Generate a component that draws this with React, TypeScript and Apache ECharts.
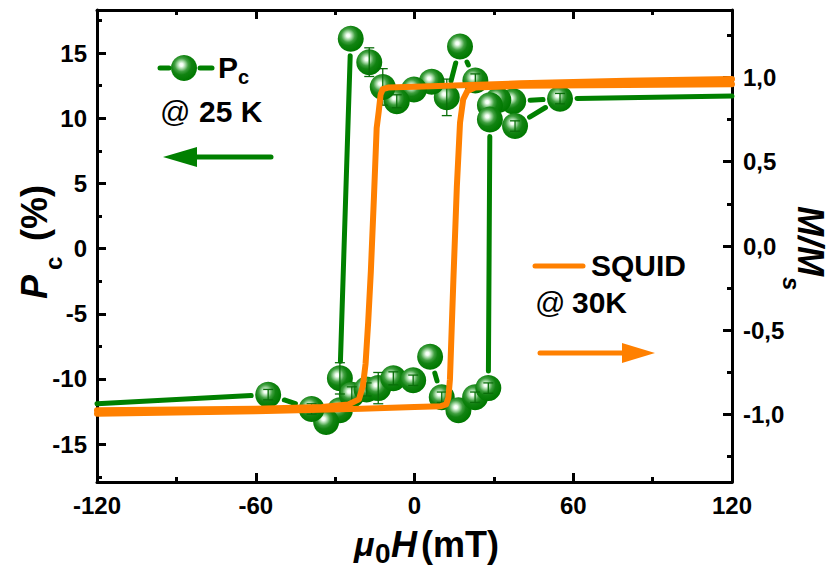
import React, { useEffect, useRef } from 'react';
import * as echarts from 'echarts';

// ---- axes ----
const xRange = [-120, 120];
const xInterval = 60;
const pcRange = [-17.9, 18.3];
const pcTicks = [-15, -10, -5, 0, 5, 10, 15];
const pcMinorTicks = [-17.5, -12.5, -7.5, -2.5, 2.5, 7.5, 12.5, 17.5];
const mRange = [-1.4, 1.4];
const mTicks = [-1, -0.5, 0, 0.5, 1];
const mMinorTicks = [-1.25, -0.75, -0.25, 0.25, 0.75, 1.25];

// ---- Pc (%) at 25 K, field sweeping down ----
const pcDownH = [55, 37.3, 31.7, 28.5, 23.0, 17.2, 12.2, 6.5, -0.2, -6.7, -12.0, -17.1, -24.1, -28.2, -28.2, -33.4, -38.9, -55.3];
const pcDownP = [11.5, 11.3, 11.4, 11.0, 12.9, 15.5, 11.6, 12.8, 12.2, 11.3, 12.4, 14.3, 16.1, -9.95, -12.4, -13.3, -12.3, -11.2];
const pcDownErr = [0.4, 0, 0, 0, 0.5, 0, 1.4, 0, 0, 0.5, 1.4, 1.1, 0, 1.2, 0, 0, 0.4, 0.4];
// ---- Pc (%) at 25 K, field sweeping up ----
const pcUpH = [-23.7, -18.1, -13.7, -8.0, -0.5, 5.9, 10.3, 16.6, 22.9, 27.9, 28.5, 38.0];
const pcUpP = [-11.2, -10.8, -10.7, -9.95, -10.1, -8.3, -11.4, -12.4, -11.4, -10.7, 9.9, 9.4];
const pcUpErr = [0.6, 0.5, 1.2, 0.5, 0.4, 0, 0.4, 0, 0.4, 0.4, 0, 0.4];
// high-field ends of the Pc curve (line only)
const pcLowEnd = [-120, -11.9];
const pcHighEnd = [120, 11.7];

// ---- SQUID M/Ms at 30 K ----
const sqDownH = [120, 80, 40, 0, -10, -12, -12.8, -13.5, -14.3, -15.3, -16.5, -17.5, -18.5, -19.5, -21, -25, -35, -60, -120];
const sqDownM = [0.99, 0.98, 0.965, 0.945, 0.94, 0.93, 0.9, 0.8, 0.7, 0.3, -0.15, -0.45, -0.7, -0.83, -0.91, -0.94, -0.955, -0.965, -0.975];
const sqUpH = [-120, -60, -20, 0, 10, 12, 12.8, 13.4, 14.7, 16, 17.2, 18.4, 20, 23, 40, 80, 120];
const sqUpM = [-0.995, -0.98, -0.965, -0.955, -0.95, -0.94, -0.9, -0.79, -0.2, 0.35, 0.73, 0.87, 0.92, 0.94, 0.95, 0.955, 0.96];

const GREEN = '#008000';
const ORANGE = '#ff8000';
const FONT = '"Liberation Sans", Arial, Helvetica, sans-serif';

function sphere() {
  return new echarts.graphic.RadialGradient(0.4, 0.38, 0.62, [
    { offset: 0, color: '#ffffff' },
    { offset: 0.1, color: '#f4fff4' },
    { offset: 0.24, color: '#a6d8a6' },
    { offset: 0.42, color: '#3f9f3f' },
    { offset: 0.62, color: '#118311' },
    { offset: 1, color: '#007800' },
  ]);
}

export default function App() {
  const ref = useRef<HTMLDivElement>(null);

  useEffect(() => {
    if (!ref.current) return;
    const chart = echarts.init(ref.current, null, { renderer: 'svg' });

    type P = { x: number; y: number; m: number };
    const chainDown: P[] = pcDownH.map((h, i) => ({ x: h, y: pcDownP[i], m: 1 }));
    chainDown.push({ x: pcLowEnd[0], y: pcLowEnd[1], m: 0 });
    const chainUp: P[] = pcUpH.map((h, i) => ({ x: h, y: pcUpP[i], m: 1 }));
    chainUp.push({ x: pcDownH[0], y: pcDownP[0], m: 1 });
    chainUp.push({ x: pcHighEnd[0], y: pcHighEnd[1], m: 0 });
    const segs: number[][] = [];
    [chainDown, chainUp].forEach((c) => {
      for (let i = 0; i < c.length - 1; i++) {
        segs.push([c[i].x, c[i].y, c[i + 1].x, c[i + 1].y, c[i].m, c[i + 1].m]);
      }
    });

    const markers = [
      ...pcDownH.map((h, i) => [h, pcDownP[i]]),
      ...pcUpH.map((h, i) => [h, pcUpP[i]]),
    ];
    const errs = [
      ...pcDownH.map((h, i) => [h, pcDownP[i], pcDownErr[i]]),
      ...pcUpH.map((h, i) => [h, pcUpP[i], pcUpErr[i]]),
    ].filter((e) => e[2] > 0);

    const GAP = 17;

    const tickLabel = { color: '#000', fontSize: 24, fontWeight: 'bold' as const, fontFamily: FONT };
    const lineSt = { color: '#000', width: 3 };

    const option: any = {
      animation: false,
      backgroundColor: '#ffffff',
      grid: { left: 97, right: 97, top: 10, bottom: 87 },
      xAxis: [
        {
          type: 'value', min: xRange[0], max: xRange[1], interval: xInterval, position: 'bottom',
          axisLine: { onZero: false, lineStyle: lineSt },
          axisTick: { inside: true, length: 9, lineStyle: lineSt },
          minorTick: { show: true, splitNumber: 2, length: 5, lineStyle: lineSt },
          axisLabel: { ...tickLabel, margin: 11 },
          splitLine: { show: false },
        },
        {
          type: 'value', min: xRange[0], max: xRange[1], interval: xInterval, position: 'top',
          axisLine: { onZero: false, lineStyle: lineSt },
          axisTick: { inside: true, length: 9, lineStyle: lineSt },
          minorTick: { show: true, splitNumber: 2, length: 5, lineStyle: lineSt },
          axisLabel: { show: false },
          splitLine: { show: false },
        },
      ],
      yAxis: [
        {
          type: 'value', min: pcRange[0], max: pcRange[1], position: 'left',
          axisLine: { onZero: false, lineStyle: lineSt },
          axisTick: { inside: true, length: 9, lineStyle: lineSt, customValues: pcTicks },
          axisLabel: { ...tickLabel, margin: 10, customValues: pcTicks },
          splitLine: { show: false },
        },
        {
          type: 'value', min: mRange[0], max: mRange[1], position: 'right',
          axisLine: { onZero: false, lineStyle: lineSt },
          axisTick: { inside: true, length: 9, lineStyle: lineSt, customValues: mTicks },
          axisLabel: {
            ...tickLabel, margin: 11, customValues: mTicks,
            formatter: (v: number) => (Math.abs(v) < 1e-9 ? 0 : v).toFixed(1).replace('.', ','),
          },
          splitLine: { show: false },
        },
        {
          type: 'value', min: pcRange[0], max: pcRange[1], position: 'left',
          axisLine: { show: false, onZero: false },
          axisTick: { inside: true, length: 5, lineStyle: lineSt, customValues: pcMinorTicks },
          axisLabel: { show: false },
          splitLine: { show: false },
        },
        {
          type: 'value', min: mRange[0], max: mRange[1], position: 'right',
          axisLine: { show: false, onZero: false },
          axisTick: { inside: true, length: 5, lineStyle: lineSt, customValues: mMinorTicks },
          axisLabel: { show: false },
          splitLine: { show: false },
        },
      ],
      series: [
        {
          type: 'custom', name: 'Pc line', xAxisIndex: 0, yAxisIndex: 0, z: 3,
          encode: { x: [0, 2], y: [1, 3] },
          data: segs,
          renderItem: (params: any, api: any) => {
            const a = api.coord([api.value(0), api.value(1)]);
            const b = api.coord([api.value(2), api.value(3)]);
            const dx = b[0] - a[0];
            const dy = b[1] - a[1];
            const len = Math.sqrt(dx * dx + dy * dy);
            const ga = api.value(4) ? GAP : 0;
            const gb = api.value(5) ? GAP : 0;
            if (len <= ga + gb + 1) return null;
            const ux = dx / len, uy = dy / len;
            return {
              type: 'line',
              shape: { x1: a[0] + ux * ga, y1: a[1] + uy * ga, x2: b[0] - ux * gb, y2: b[1] - uy * gb },
              style: { stroke: GREEN, lineWidth: 5, lineCap: 'round' },
            };
          },
        },
        {
          type: 'scatter', name: 'Pc', xAxisIndex: 0, yAxisIndex: 0, z: 4,
          symbol: 'circle', symbolSize: 26,
          itemStyle: { color: sphere(), opacity: 1 },
          data: markers,
        },
        {
          type: 'custom', name: 'Pc err', xAxisIndex: 0, yAxisIndex: 0, z: 5,
          encode: { x: 0, y: 1 },
          data: errs,
          renderItem: (params: any, api: any) => {
            const x = api.value(0), y = api.value(1), e = api.value(2);
            const t = api.coord([x, y + e]);
            const b = api.coord([x, y - e]);
            const st = { stroke: '#0a6e0a', lineWidth: 1.3 };
            return {
              type: 'group',
              children: [
                { type: 'line', shape: { x1: t[0], y1: t[1], x2: b[0], y2: b[1] }, style: st },
                { type: 'line', shape: { x1: t[0] - 5, y1: t[1], x2: t[0] + 5, y2: t[1] }, style: st },
                { type: 'line', shape: { x1: b[0] - 5, y1: b[1], x2: b[0] + 5, y2: b[1] }, style: st },
              ],
            };
          },
        },
        {
          type: 'line', name: 'SQUID down', xAxisIndex: 0, yAxisIndex: 1, z: 8,
          showSymbol: false, symbol: 'none',
          lineStyle: { color: ORANGE, width: 6, cap: 'round', join: 'round' },
          data: sqDownH.map((h, i) => [h, sqDownM[i]]),
        },
        {
          type: 'line', name: 'SQUID up', xAxisIndex: 0, yAxisIndex: 1, z: 8,
          showSymbol: false, symbol: 'none',
          lineStyle: { color: ORANGE, width: 6, cap: 'round', join: 'round' },
          data: sqUpH.map((h, i) => [h, sqUpM[i]]),
        },
      ],
      graphic: [
        // left axis title
        {
          type: 'group', x: 34, y: 243, rotation: Math.PI / 2,
          children: [
            { type: 'text', x: -56, y: 0, style: { text: 'P', font: `italic bold 36px ${FONT}`, fill: '#000', textAlign: 'left', textVerticalAlign: 'middle' } },
            { type: 'text', x: -27, y: 19, style: { text: 'c', font: `bold 24px ${FONT}`, fill: '#000', textAlign: 'left', textVerticalAlign: 'middle' } },
            { type: 'text', x: 2, y: 0, style: { text: '(%)', font: `bold 36px ${FONT}`, fill: '#000', textAlign: 'left', textVerticalAlign: 'middle' } },
          ],
        },
        // right axis title
        {
          type: 'group', x: 810, y: 242, rotation: -Math.PI / 2,
          children: [
            { type: 'text', x: -36, y: 0, style: { text: 'M/M', font: `italic bold 36px ${FONT}`, fill: '#000', textAlign: 'left', textVerticalAlign: 'middle' } },
            { type: 'text', x: 35, y: 19, style: { text: 's', font: `italic bold 24px ${FONT}`, fill: '#000', textAlign: 'left', textVerticalAlign: 'middle' } },
          ],
        },
        // x axis title
        { type: 'text', x: 354, y: 544, style: { text: 'μ', font: `italic bold 34px ${FONT}`, fill: '#000', textAlign: 'left', textVerticalAlign: 'middle' } },
        { type: 'text', x: 375, y: 553, style: { text: '0', font: `bold 28px ${FONT}`, fill: '#000', textAlign: 'left', textVerticalAlign: 'middle' } },
        { type: 'text', x: 391, y: 544, style: { text: 'H', font: `italic bold 36px ${FONT}`, fill: '#000', textAlign: 'left', textVerticalAlign: 'middle' } },
        { type: 'text', x: 421, y: 544, style: { text: '(mT)', font: `bold 36px ${FONT}`, fill: '#000', textAlign: 'left', textVerticalAlign: 'middle' } },
        // legend Pc
        { type: 'line', shape: { x1: 160, y1: 68, x2: 169, y2: 68 }, style: { stroke: GREEN, lineWidth: 5, lineCap: 'round' } },
        { type: 'line', shape: { x1: 200, y1: 68, x2: 212, y2: 68 }, style: { stroke: GREEN, lineWidth: 5, lineCap: 'round' } },
        { type: 'circle', shape: { cx: 184, cy: 68, r: 13 }, style: { fill: sphere() } },
        { type: 'text', x: 218, y: 67, style: { text: 'P', font: `bold 30px ${FONT}`, fill: '#000', textAlign: 'left', textVerticalAlign: 'middle' } },
        { type: 'text', x: 238, y: 77, style: { text: 'c', font: `bold 20px ${FONT}`, fill: '#000', textAlign: 'left', textVerticalAlign: 'middle' } },
        { type: 'text', x: 160, y: 111, style: { text: '@', font: `30px ${FONT}`, fill: '#000', textAlign: 'left', textVerticalAlign: 'middle' } },
        { type: 'text', x: 199, y: 111, style: { text: '25 K', font: `bold 30px ${FONT}`, fill: '#000', textAlign: 'left', textVerticalAlign: 'middle' } },
        // green arrow (left axis)
        { type: 'line', shape: { x1: 190, y1: 157, x2: 271, y2: 157 }, style: { stroke: GREEN, lineWidth: 5, lineCap: 'round' } },
        { type: 'polygon', shape: { points: [[163, 157], [197, 147], [197, 167]] }, style: { fill: GREEN } },
        // legend SQUID
        { type: 'line', shape: { x1: 535, y1: 266, x2: 583, y2: 266 }, style: { stroke: ORANGE, lineWidth: 5, lineCap: 'round' } },
        { type: 'text', x: 591, y: 265, style: { text: 'SQUID', font: `bold 30px ${FONT}`, fill: '#000', textAlign: 'left', textVerticalAlign: 'middle' } },
        { type: 'text', x: 535, y: 302, style: { text: '@', font: `30px ${FONT}`, fill: '#000', textAlign: 'left', textVerticalAlign: 'middle' } },
        { type: 'text', x: 572, y: 302, style: { text: '30K', font: `bold 30px ${FONT}`, fill: '#000', textAlign: 'left', textVerticalAlign: 'middle' } },
        // orange arrow (right axis)
        { type: 'line', shape: { x1: 540, y1: 353, x2: 628, y2: 353 }, style: { stroke: ORANGE, lineWidth: 5, lineCap: 'round' } },
        { type: 'polygon', shape: { points: [[655, 353], [622, 343], [622, 363]] }, style: { fill: ORANGE } },
      ],
    };

    chart.setOption(option);
    return () => chart.dispose();
  }, []);

  return (
    <div
      ref={ref}
      style={{ position: 'fixed', left: 0, top: 0, width: 829, height: 569, background: '#fff' }}
    />
  );
}
